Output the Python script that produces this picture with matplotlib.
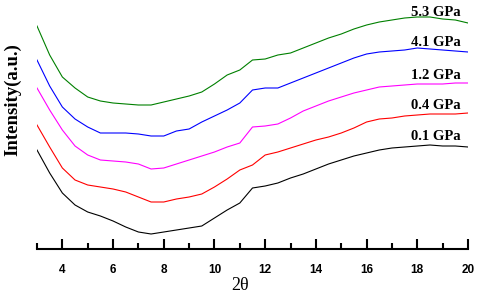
import numpy as np
import matplotlib.pyplot as plt
from matplotlib.ticker import MultipleLocator

# 2theta positions (deg)
two_theta = [3.0, 3.5, 4.0, 4.5, 5.0, 5.5, 6.0, 6.5, 7.0, 7.5, 8.0, 8.5, 9.0, 9.5,
             10.0, 10.5, 11.0, 11.5, 12.0, 12.5, 13.0, 13.5, 14.0, 14.5, 15.0, 15.5,
             16.0, 16.5, 17.0, 17.5, 18.0, 18.5, 19.0, 19.5, 20.0]

# intensities (a.u., already offset for stacking)
i_01 = [99, 76, 56, 44, 37, 33, 28, 22, 17, 15, 17, 19, 21, 23, 31, 39, 46, 61, 63, 66,
        71, 75, 80, 85, 89, 93, 96, 99, 101, 102, 103, 104, 103, 103, 102]
i_04 = [124, 102, 81, 69, 64, 62, 60, 57, 52, 47, 47, 50, 52, 55, 62, 70, 79, 84, 94, 97,
        101, 105, 109, 112, 116, 121, 127, 130, 131, 133, 134, 135, 135, 135, 136]
i_12 = [161, 139, 119, 103, 94, 89, 88, 87, 85, 80, 81, 85, 89, 93, 97, 102, 106, 122, 123, 125,
        131, 138, 143, 148, 152, 156, 159, 162, 163, 164, 165, 165, 165, 166, 166]
i_41 = [189, 163, 142, 130, 122, 116, 116, 116, 115, 113, 113, 118, 120, 127, 133, 139, 146, 159, 161, 161,
        166, 171, 176, 181, 186, 191, 195, 197, 198, 199, 201, 200, 199, 198, 197]
i_53 = [223, 194, 172, 161, 152, 148, 146, 145, 144, 144, 147, 150, 153, 157, 165, 174, 179, 189, 190, 194,
        196, 201, 206, 211, 215, 220, 224, 227, 229, 231, 232, 232, 230, 229, 226]

labels = ['0.1 GPa', '0.4 GPa', '1.2 GPa', '4.1 GPa', '5.3 GPa']
label_y = [112, 144, 174, 207, 236]
colors = ['black', '#ff0000', '#ff00ff', '#0000ff', '#008000']
series = [i_01, i_04, i_12, i_41, i_53]

fig = plt.figure(figsize=(4.8, 2.96), dpi=100)
ax = fig.add_axes([37 / 480, 47 / 296, 431 / 480, 239 / 296])

for y, c, lab, ly in zip(series, colors, labels, label_y):
    ax.plot(two_theta, y, color=c, lw=0.8)
    ax.text(18.74, ly, lab, color='black', fontsize=10.5, fontweight='bold',
            family='Liberation Serif', ha='center', va='center', clip_on=False)

ax.set_xlim(3, 20)
ax.set_ylim(0, 239)
for s in ['top', 'right', 'left']:
    ax.spines[s].set_visible(False)
ax.spines['bottom'].set_linewidth(1.5)
ax.set_yticks([])
ax.xaxis.set_major_locator(MultipleLocator(2))
ax.xaxis.set_minor_locator(MultipleLocator(1))
ax.tick_params(axis='x', which='major', direction='in', length=7, width=1.5, pad=11)
ax.tick_params(axis='x', which='minor', direction='in', length=4, width=1.5)
for t in ax.get_xticklabels():
    t.set_fontweight('bold')
    t.set_fontsize(8.5)
    t.set_family('Liberation Sans')

fig.text(240 / 480, 1 - 285 / 296, '2θ', fontsize=13, family='Liberation Serif',
         ha='center', va='center')
fig.text(13 / 480, 1 - 100 / 296, 'Intensity(a.u.)', fontsize=13.5, fontweight='bold',
         family='Liberation Serif', rotation=90, ha='center', va='center')

fig.savefig('out.png', dpi=100)
